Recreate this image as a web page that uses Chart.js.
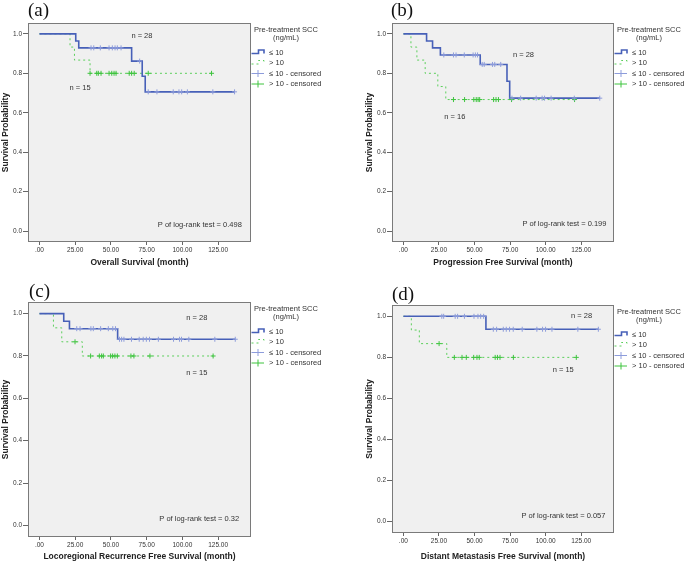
<!DOCTYPE html>
<html>
<head>
<meta charset="utf-8">
<script src="https://cdn.jsdelivr.net/npm/chart.js@4.4.1/dist/chart.umd.min.js"></script>
<style>
  body { margin: 0; width: 685px; height: 564px; overflow: hidden; position: relative; background: #fff; }
  .panel { position: absolute; }
  .tag { position: absolute; font-family: "Liberation Serif", "DejaVu Serif", serif; font-size: 19px; color: #111; line-height: 1; }
</style>
</head>
<body>
<div class="panel" style="left:0;top:0"><canvas id="chartA" width="342" height="280"></canvas></div>
<div class="panel" style="left:342px;top:0"><canvas id="chartB" width="343" height="280"></canvas></div>
<div class="panel" style="left:0;top:280px"><canvas id="chartC" width="342" height="284"></canvas></div>
<div class="panel" style="left:342px;top:280px"><canvas id="chartD" width="343" height="284"></canvas></div>
<div class="tag" style="left:28px;top:0">(a)</div>
<div class="tag" style="left:391px;top:0">(b)</div>
<div class="tag" style="left:29px;top:281px">(c)</div>
<div class="tag" style="left:392px;top:284px">(d)</div>
<script>
// Data ---------------------------------------------------

const xTickValues = [0, 25, 50, 75, 100, 125];
const xTickLabels = ['.00', '25.00', '50.00', '75.00', '100.00', '125.00'];
const yTickValues = [0, 0.2, 0.4, 0.6, 0.8, 1.0];
const yTickLabels = ['0.0', '0.2', '0.4', '0.6', '0.8', '1.0'];

const legendTitle = ['Pre-treatment SCC', '(ng/mL)'];
const legendLabels = ['≤ 10', '> 10', '≤ 10 - censored', '> 10 - censored'];

// (a) overall survival
const osLowT = [0, 25.4, 27.5, 64.5, 71.9, 74.0, 136.5];
const osLowS = [1, 0.964, 0.929, 0.862, 0.785, 0.706, 0.706];
const osLowCens = [36.1, 38.0, 42.6, 48.7, 51.0, 52.9, 54.5, 57.1, 70.1, 76.1, 82.2, 93.6, 97.6, 99.5, 103.5, 121.3, 136.5];
const osHighT = [0, 21.4, 24.5, 35.4, 120.4];
const osHighS = [1, 0.933, 0.867, 0.8, 0.8];
const osHighCens = [35.4, 40.1, 41.2, 43.1, 48.7, 50.6, 52.2, 53.6, 62.8, 64.5, 66.3, 76.1, 120.4];

// (b) progression free survival
const pfsLowT = [0, 16.3, 20.5, 26.0, 54.0, 72.8, 74.7, 138];
const pfsLowS = [1, 0.964, 0.929, 0.893, 0.845, 0.76, 0.674, 0.674];
const pfsLowCens = [28.4, 35.2, 37.0, 42.8, 49.0, 50.6, 52.1, 55.4, 56.8, 62.6, 64.2, 68.4, 76.3, 82.4, 93.3, 97.5, 99.2, 103.8, 120.1, 138];
const pfsHighT = [0, 5.3, 9.5, 15.3, 24.2, 29.8, 120.3];
const pfsHighS = [1, 0.933, 0.867, 0.8, 0.733, 0.667, 0.667];
const pfsHighCens = [35.2, 43.0, 49.5, 51.2, 52.5, 53.6, 63.4, 65.1, 66.8, 76.0, 120.3];

// (c) locoregional recurrence free survival
const lrLowT = [0, 17.0, 21.0, 54.7, 137];
const lrLowS = [1, 0.964, 0.929, 0.879, 0.879];
const lrLowCens = [26.1, 28.4, 36.0, 37.7, 42.8, 48.2, 51.3, 53.2, 56.0, 57.5, 59.1, 64.4, 69.8, 72.6, 74.8, 77.0, 83.2, 93.8, 98.0, 99.4, 104.5, 122.7, 137];
const lrHighT = [0, 9.8, 15.6, 30.0, 121.5];
const lrHighS = [1, 0.933, 0.867, 0.8, 0.8];
const lrHighCens = [24.9, 35.8, 41.9, 43.5, 44.7, 49.8, 51.2, 52.8, 54.5, 64.0, 66.1, 77.3, 121.5];

// (d) distant metastasis free survival
const dmLowT = [0, 58.0, 137];
const dmLowS = [1, 0.937, 0.937];
const dmLowCens = [27.0, 28.3, 36.4, 38.1, 42.9, 49.6, 52.4, 54.3, 56.4, 63.2, 65.5, 70.2, 72.3, 74.6, 77.2, 83.5, 93.8, 97.8, 99.9, 104.4, 122.6, 137];
const dmHighT = [0, 5.6, 11.2, 30.5, 121.5];
const dmHighS = [1, 0.933, 0.867, 0.8, 0.8];
const dmHighCens = [25.1, 35.8, 41.2, 44.2, 49.4, 51.7, 53.3, 64.5, 66.1, 67.9, 77.3, 121.5];

// Style --------------------------------------------------

const blue = '#4760b8';
const blueCens = '#8d9cdb';
const green = '#5ccf5c';
const greenCens = '#3ec43e';
const textColor = '#333';
Chart.defaults.font.family = '"Liberation Sans", Arial, sans-serif';

// Helpers ------------------------------------------------

function curvePoints(times, surv) {
  return times.map((t, i) => ({ x: t, y: surv[i] }));
}

// censored mark sits on the curve at its own time
function censPoints(times, surv, cens) {
  return cens.map(c => {
    let s = surv[0];
    for (let i = 0; i < times.length; i++) {
      if (times[i] <= c) s = surv[i];
    }
    return { x: c, y: s };
  });
}

const kmPlugin = {
  id: 'km',
  beforeDatasetsDraw(chart) {
    const a = chart.chartArea, ctx = chart.ctx;
    ctx.save();
    ctx.fillStyle = '#f0f0f0';
    ctx.fillRect(a.left, a.top, a.right - a.left, a.bottom - a.top);
    ctx.restore();
  },
  afterDraw(chart) {
    const a = chart.chartArea, ctx = chart.ctx;
    const p = chart.options.plugins.km;
    ctx.save();
    ctx.strokeStyle = '#7a7a7a';
    ctx.lineWidth = 1;
    ctx.strokeRect(Math.round(a.left) + 0.5, Math.round(a.top) + 0.5,
      Math.round(a.right - a.left) - 1, Math.round(a.bottom - a.top) - 1);

    // notes inside the plot
    ctx.fillStyle = textColor;
    ctx.font = '7.5px "Liberation Sans", Arial, sans-serif';
    ctx.textBaseline = 'middle';
    const xs = chart.scales.x, ys = chart.scales.y;
    p.notes.forEach(n => {
      ctx.textAlign = n.align;
      ctx.fillText(n.text, xs.getPixelForValue(n.x), ys.getPixelForValue(n.y));
    });

    // legend at the right of the plot
    const x0 = a.right, t = a.top;
    ctx.textAlign = 'center';
    ctx.fillText(legendTitle[0], x0 + 35, t + 7);
    ctx.fillText(legendTitle[1], x0 + 35, t + 15);
    ctx.textAlign = 'left';
    legendLabels.forEach((lab, i) => {
      const y = t + 29.5 + i * 10.5;
      ctx.fillStyle = textColor;
      ctx.fillText(lab, x0 + 18, y);
      ctx.beginPath();
      if (i < 2) {
        ctx.strokeStyle = i === 0 ? blue : green;
        ctx.lineWidth = i === 0 ? 1.6 : 1;
        ctx.setLineDash(i === 0 ? [] : [2, 3]);
        ctx.moveTo(x0 + 0.5, y + 1);
        ctx.lineTo(x0 + 7.5, y + 1);
        ctx.lineTo(x0 + 7.5, y - 2.5);
        ctx.lineTo(x0 + 13, y - 2.5);
        ctx.lineTo(x0 + 13, y + 1);
      } else {
        ctx.strokeStyle = i === 2 ? blueCens : greenCens;
        ctx.lineWidth = 1;
        ctx.setLineDash([]);
        ctx.moveTo(x0 + 0.5, y);
        ctx.lineTo(x0 + 13, y);
        ctx.moveTo(x0 + 7, y - 3.5);
        ctx.lineTo(x0 + 7, y + 3.5);
      }
      ctx.stroke();
    });
    ctx.restore();
  }
};

function makePanel(id, p) {
  const el = document.getElementById(id);
  return new Chart(el, {
    type: 'scatter',
    data: {
      datasets: [
        { data: curvePoints(p.lowT, p.lowS), showLine: true, stepped: true, borderColor: blue, borderWidth: 1.6, pointRadius: 0, order: 3 },
        { data: curvePoints(p.highT, p.highS), showLine: true, stepped: true, borderColor: green, borderWidth: 1, borderDash: [2, 3], pointRadius: 0, order: 4 },
        { data: censPoints(p.lowT, p.lowS, p.lowC), showLine: false, pointStyle: 'cross', pointRadius: 2.5, borderColor: blueCens, borderWidth: 1, order: 1 },
        { data: censPoints(p.highT, p.highS, p.highC), showLine: false, pointStyle: 'cross', pointRadius: 2.5, borderColor: greenCens, borderWidth: 1, order: 2 }
      ]
    },
    options: {
      responsive: false,
      animation: false,
      events: [],
      layout: { padding: { left: p.padL, right: p.padR, top: p.padT, bottom: p.padB } },
      plugins: {
        legend: { display: false },
        tooltip: { enabled: false },
        km: { notes: p.notes }
      },
      scales: {
        x: {
          type: 'linear', min: -8, max: 148,
          afterFit: s => { s.height = p.xH; },
          afterBuildTicks: s => { s.ticks = xTickValues.map(v => ({ value: v })); },
          ticks: { callback: v => xTickLabels[xTickValues.indexOf(v)], font: { size: 6.5 }, color: textColor, padding: 1, maxRotation: 0, autoSkip: false },
          grid: { drawOnChartArea: false, tickLength: 3, color: '#666' },
          border: { display: false },
          title: { display: true, text: p.xTitle, font: { size: 8.5, weight: 'bold' }, color: '#222', padding: 0 }
        },
        y: {
          type: 'linear', min: -0.055, max: 1.055,
          afterFit: s => { s.width = 28; },
          afterBuildTicks: s => { s.ticks = yTickValues.map(v => ({ value: v })); },
          ticks: { callback: v => yTickLabels[yTickValues.indexOf(v)], font: { size: 6.5 }, color: textColor, padding: 1, autoSkip: false },
          grid: { drawOnChartArea: false, tickLength: 5, color: '#666' },
          border: { display: false },
          title: { display: true, text: 'Survival Probability', font: { size: 8.5, weight: 'bold' }, color: '#222', padding: { top: 0.5, bottom: 0 } }
        }
      }
    },
    plugins: [kmPlugin]
  });
}

// Panels -------------------------------------------------

makePanel('chartA', {
  lowT: osLowT, lowS: osLowS, lowC: osLowCens, highT: osHighT, highS: osHighS, highC: osHighCens,
  xTitle: 'Overall Survival (month)',
  padL: 0, padR: 91, padT: 23, padB: 12, xH: 26,
  notes: [
    { text: 'n = 28', x: 71.7, y: 0.99, align: 'center' },
    { text: 'n = 15', x: 28.4, y: 0.726, align: 'center' },
    { text: 'P of log-rank test = 0.498', x: 141.6, y: 0.032, align: 'right' }
  ]
});

makePanel('chartB', {
  lowT: pfsLowT, lowS: pfsLowS, lowC: pfsLowCens, highT: pfsHighT, highS: pfsHighS, highC: pfsHighCens,
  xTitle: 'Progression Free Survival (month)',
  padL: 22, padR: 71, padT: 23, padB: 12, xH: 26,
  notes: [
    { text: 'n = 28', x: 84.4, y: 0.894, align: 'center' },
    { text: 'n = 16', x: 36.2, y: 0.579, align: 'center' },
    { text: 'P of log-rank test = 0.199', x: 142.7, y: 0.037, align: 'right' }
  ]
});

makePanel('chartC', {
  lowT: lrLowT, lowS: lrLowS, lowC: lrLowCens, highT: lrHighT, highS: lrHighS, highC: lrHighCens,
  xTitle: 'Locoregional Recurrence Free Survival (month)',
  padL: 0, padR: 91, padT: 22, padB: 2, xH: 25,
  notes: [
    { text: 'n = 28', x: 110.1, y: 0.981, align: 'center' },
    { text: 'n = 15', x: 110.1, y: 0.722, align: 'center' },
    { text: 'P of log-rank test = 0.32', x: 139.7, y: 0.028, align: 'right' }
  ]
});

makePanel('chartD', {
  lowT: dmLowT, lowS: dmLowS, lowC: dmLowCens, highT: dmHighT, highS: dmHighS, highC: dmHighCens,
  xTitle: 'Distant Metastasis Free Survival (month)',
  padL: 22, padR: 71, padT: 25, padB: 2.5, xH: 28.5,
  notes: [
    { text: 'n = 28', x: 125.2, y: 1.0, align: 'center' },
    { text: 'n = 15', x: 112.3, y: 0.739, align: 'center' },
    { text: 'P of log-rank test = 0.057', x: 142, y: 0.028, align: 'right' }
  ]
});
</script>
</body>
</html>
